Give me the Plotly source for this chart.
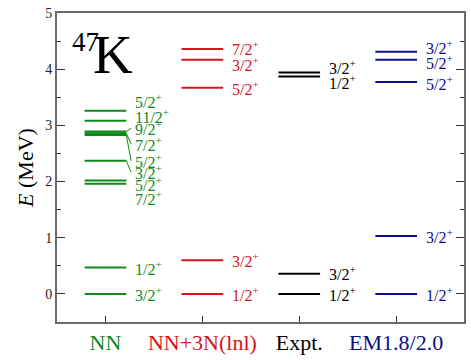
import plotly.graph_objects as go

# columns of the level scheme
columns = ['NN', 'NN+3N(lnl)', 'Expt.', 'EM1.8/2.0']
col_colors = ['#11881a', '#d4151a', '#000000', '#0d0d8a']

# level energies (MeV), spin-parity labels and label heights per column
nn_E = [0.0, 0.47, 1.96, 2.02, 2.37, 2.83, 2.86, 2.89, 3.08, 3.26]
nn_J = ['3/2', '1/2', '7/2', '5/2', '3/2', '5/2', '7/2', '9/2', '11/2', '5/2']
nn_label_E = [0.0, 0.47, 1.71, 1.96, 2.17, 2.37, 2.67, 2.95, 3.17, 3.44]
nn_leader = [False, False, False, False, True, True, True, True, False, False]

nn3n_E = [0.0, 0.60, 3.67, 4.17, 4.36]
nn3n_J = ['1/2', '3/2', '5/2', '3/2', '7/2']
nn3n_label_E = [0.0, 0.60, 3.67, 4.09, 4.38]

expt_E = [0.0, 0.36, 3.87, 3.94]
expt_J = ['1/2', '3/2', '1/2', '3/2']
expt_label_E = [0.0, 0.38, 3.78, 4.04]

em_E = [0.0, 1.03, 3.77, 4.17, 4.31]
em_J = ['1/2', '3/2', '5/2', '5/2', '3/2']
em_label_E = [0.0, 1.03, 3.76, 4.13, 4.39]

schemes = [
    (nn_E, nn_J, nn_label_E, nn_leader),
    (nn3n_E, nn3n_J, nn3n_label_E, None),
    (expt_E, expt_J, expt_label_E, None),
    (em_E, em_J, em_label_E, None),
]

FONT = 'Liberation Serif, Times New Roman, serif'
half = 0.215

fig = go.Figure()
annotations = []

for i, (E, J, LE, leader) in enumerate(schemes):
    c = i + 1
    color = col_colors[i]
    xs, ys = [], []
    for e in E:
        xs += [c - half, c + half, None]
        ys += [e, e, None]
    fig.add_trace(go.Scatter(x=xs, y=ys, mode='lines',
                             line=dict(color=color, width=2),
                             hoverinfo='skip', showlegend=False))
    # leader lines for shifted labels
    if leader:
        lx, ly = [], []
        for e, le, f in zip(E, LE, leader):
            if f:
                lx += [c + half, c + 0.265, None]
                ly += [e, le, None]
        fig.add_trace(go.Scatter(x=lx, y=ly, mode='lines',
                                 line=dict(color=color, width=1),
                                 hoverinfo='skip', showlegend=False))
    for j, le in zip(J, LE):
        annotations.append(dict(
            x=c + 0.285, y=le, xref='x', yref='y',
            text=f'{j}<sup>+</sup>', showarrow=False,
            xanchor='left', yanchor='middle',
            font=dict(family=FONT, size=16, color=color)))

# nucleus label
annotations.append(dict(x=0.635, y=4.49, xref='x', yref='y', text='47',
                        showarrow=False, xanchor='left', yanchor='middle',
                        font=dict(family=FONT, size=27, color='black')))
annotations.append(dict(x=0.85, y=3.68, xref='x', yref='y', text='K',
                        showarrow=False, xanchor='left', yanchor='bottom',
                        font=dict(family=FONT, size=55, color='black')))

fig.update_layout(
    width=471, height=360,
    margin=dict(l=57, r=5, t=13, b=37),
    plot_bgcolor='white', paper_bgcolor='white',
    font=dict(family=FONT, color='black'),
    annotations=annotations,
    showlegend=False,
)

fig.update_xaxes(
    range=[0.5, 4.7],
    tickvals=[1, 2, 3, 4],
    ticktext=[f"<span style='color:{c}'>{n}</span>" for n, c in zip(columns, col_colors)],
    tickfont=dict(family=FONT, size=22),
    ticks='inside', ticklen=6, tickcolor='#333',
    showline=True, linecolor='#6a6a6a', linewidth=2, mirror=True,
    showgrid=False, zeroline=False,
)

fig.update_yaxes(
    range=[-0.5, 5],
    tickvals=[0, 1, 2, 3, 4, 5],
    tickfont=dict(family=FONT, size=14, color='#222'),
    ticks='inside', ticklen=8, tickcolor='#333',
    minor=dict(dtick=0.5, tick0=0, ticks='inside', ticklen=4, tickcolor='#333'),
    showline=True, linecolor='#6a6a6a', linewidth=2, mirror='ticks',
    showgrid=False, zeroline=False,
    title=dict(text='<i>E</i> (MeV)', font=dict(family=FONT, size=22), standoff=6),
)

# drop the default 8px body margin so the figure sits at the page corner
fig.write_html('out.html', config={'displayModeBar': False},
               post_script="document.body.style.margin='0';")
